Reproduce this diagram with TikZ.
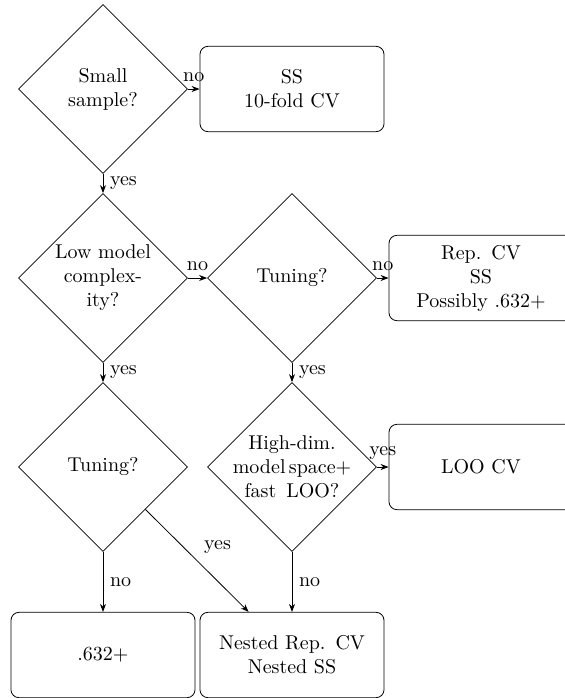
\documentclass[tikz,border=0pt]{standalone}
\usetikzlibrary{shapes.geometric,arrows.meta}
\begin{document}
\begin{tikzpicture}[x=1pt,y=1pt,
  decision/.style={diamond, draw, aspect=1, minimum width=84.5pt, minimum height=84.5pt, inner sep=-3pt, align=center},
  outcome/.style={rectangle, draw, rounded corners=4pt, text width=3cm, minimum height=1.5cm, align=center},
  arr/.style={-{Stealth[length=4pt,width=3pt]}}
]
\useasboundingbox (0,0) rectangle (282,-349);
% row 1
\node[decision] (small) at (51.5,-44.5) {Small\\sample?};
\node[outcome] (ss) at (146,-44.5) {SS\\10-fold CV};
% row 2
\node[decision] (low) at (51.5,-139) {Low model\\complex-\\ity?};
\node[decision] (tune1) at (146,-139) {Tuning?};
\node[outcome] (rep) at (240.5,-139) {Rep. CV\\SS\\Possibly .632+};
% row 3
\node[decision] (tune2) at (51.5,-233.5) {Tuning?};
\node[decision] (high) at (146,-233.5) {High-dim.\\model\,space+\\fast\ \,LOO?};
\node[outcome] (loo) at (240.5,-233.5) {LOO CV};
% row 4
\node[outcome] (boot) at (51.5,-327.5) {.632+};
\node[outcome] (nested) at (146,-327.5) {Nested Rep. CV\\Nested SS};
% connectors
\draw[arr] (small) -- node[midway,above] {no} (ss);
\draw[arr] (small) -- node[midway,right] {yes} (low);
\draw[arr] (low) -- node[midway,above] {no} (tune1);
\draw[arr] (tune1) -- node[midway,above] {no} (rep);
\draw[arr] (low) -- node[midway,right] {yes} (tune2);
\draw[arr] (tune1) -- node[midway,right] {yes} (high);
\draw[arr] (high) -- node[midway,above] {yes} (loo);
\draw[arr] (tune2) -- node[midway,right] {no} (boot);
\draw[arr] (high) -- node[midway,right] {no} (nested);
\draw[arr] (tune2.south east) -- node[midway,above right] {yes} (nested);
\end{tikzpicture}
\end{document}
